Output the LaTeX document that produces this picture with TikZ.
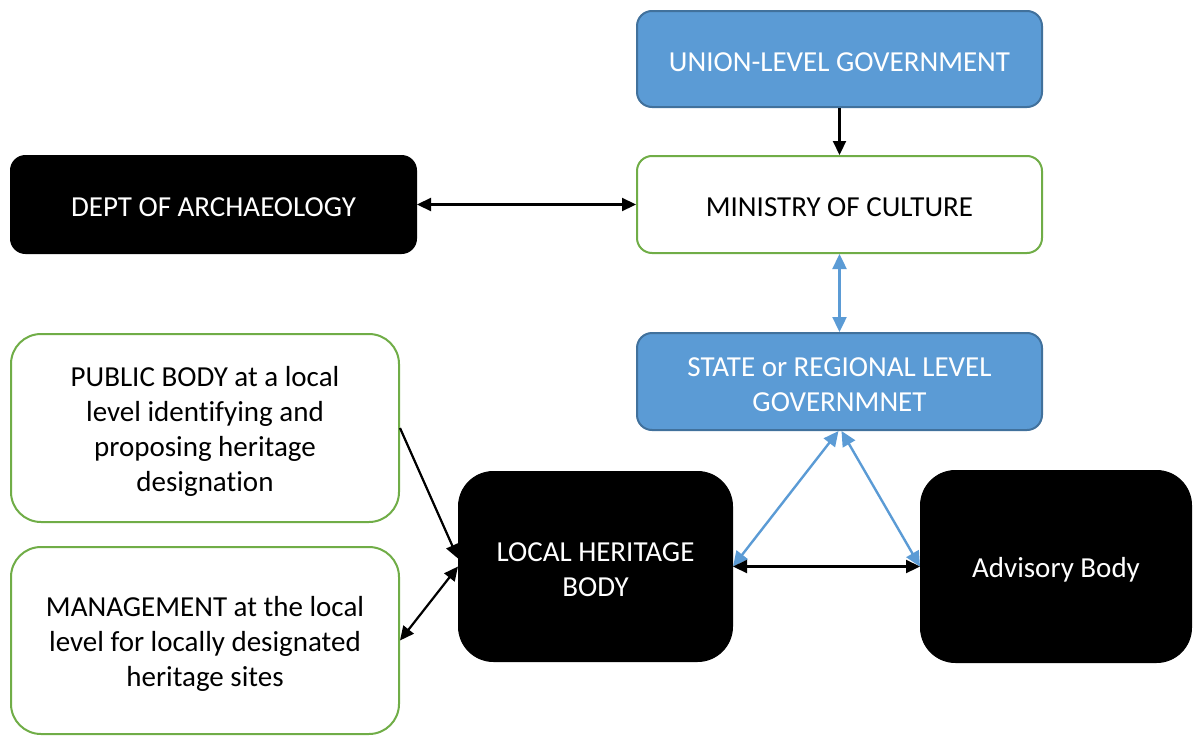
\documentclass[tikz,border=0pt]{standalone}
\usepackage{fontspec}
\setmainfont{Carlito}[Ligatures={NoCommon}]
\usetikzlibrary{arrows.meta}
\definecolor{bfill}{HTML}{5B9BD5}
\definecolor{bdraw}{HTML}{41719C}
\definecolor{gline}{HTML}{70AD47}
\tikzset{
  base/.style={rectangle, inner sep=0pt},
  txt/.style={align=center, inner sep=0pt, font=\fontsize{29}{35}\selectfont, yshift=-3pt},
  wtxt/.style={txt, text=white},
  ktxt/.style={txt, text=black},
  bluebox/.style={base, fill=bfill, draw=bdraw, line width=2pt, rounded corners=15pt},
  greenbox/.style={base, fill=white, draw=gline, line width=2pt},
  blackbox/.style={base, fill=black, draw=black, line width=1pt},
  blkarrow/.style={draw=black, line width=2.2pt, arrows={-Triangle[length=14pt,width=13pt]}},
  blkboth/.style={draw=black, line width=2.2pt, arrows={Triangle[length=14pt,width=13pt]-Triangle[length=14pt,width=13pt]}},
  blueboth/.style={draw=bfill, line width=2.4pt, arrows={Triangle[length=15pt,width=14pt]-Triangle[length=15pt,width=14pt]}}
}
\begin{document}
\begin{tikzpicture}[x=1pt,y=-1pt]
\useasboundingbox (0,0) rectangle (1194,736);
\node[bluebox, minimum width=405pt, minimum height=96pt] (union) at (839.5,59) {};
\node[wtxt] (unionT) at (union.center) {UNION-LEVEL GOVERNMENT};
\node[greenbox, rounded corners=15pt, minimum width=405pt, minimum height=97pt] (ministry) at (839.5,204.5) {};
\node[ktxt] (ministryT) at (ministry.center) {MINISTRY OF CULTURE};
\node[blackbox, rounded corners=15pt, minimum width=406pt, minimum height=98pt] (dept) at (213.5,204.5) {};
\node[wtxt] (deptT) at (dept.center) {DEPT OF ARCHAEOLOGY};
\node[bluebox, minimum width=405pt, minimum height=97pt] (state) at (839.5,381.5) {};
\node[wtxt] (stateT) at (state.center) {STATE or REGIONAL LEVEL\\GOVERNMNET};
\node[greenbox, rounded corners=30pt, minimum width=388pt, minimum height=188pt] (public) at (205,428) {};
\node[ktxt] (publicT) at (public.center) {PUBLIC BODY at a local\\level identifying and\\proposing heritage\\designation};
\node[greenbox, rounded corners=30pt, minimum width=388pt, minimum height=187pt] (mgmt) at (205,640.5) {};
\node[ktxt] (mgmtT) at (mgmt.center) {MANAGEMENT at the local\\level for locally designated\\heritage sites};
\node[blackbox, rounded corners=35pt, minimum width=274pt, minimum height=190pt] (local) at (595.5,566.5) {};
\node[wtxt] (localT) at (local.center) {LOCAL HERITAGE\\BODY};
\node[blackbox, rounded corners=35pt, minimum width=271pt, minimum height=192pt] (advisory) at (1056,566.5) {};
\node[wtxt] (advisoryT) at (advisory.center) {Advisory Body};
\draw[blkarrow] (union.south) -- (ministry.north);
\draw[blkboth] (dept.east) -- (ministry.west);
\draw[blueboth] (ministry.south) -- (state.north);
\draw[blueboth] ([xshift=-1pt]state.south) -- (local.east);
\draw[blueboth] ([xshift=2pt]state.south) -- (advisory.west);
\draw[blkboth] (local.east) -- (advisory.west);
\draw[blkarrow] (public.east) -- ([yshift=8pt]local.west);
\draw[blkboth] (mgmt.east) -- (local.west);
\end{tikzpicture}
\end{document}
